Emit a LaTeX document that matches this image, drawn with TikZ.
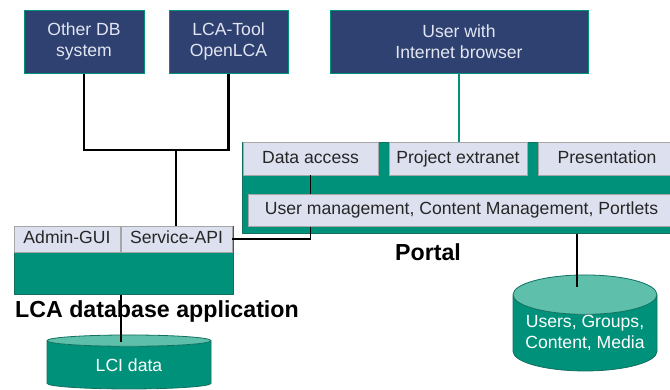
\documentclass[tikz,border=0pt]{standalone}
\usepackage{fontspec}
\setmainfont{Liberation Sans}
\usetikzlibrary{shapes.geometric}
\definecolor{navy}{HTML}{2F4170}
\definecolor{navytext}{HTML}{E2E6F2}
\definecolor{teal1}{HTML}{00917A}
\definecolor{teal2}{HTML}{5EBFAA}
\definecolor{tealdark}{HTML}{11705F}
\definecolor{cell}{HTML}{DDE1EF}
\begin{document}
\begin{tikzpicture}[x=1pt,y=1pt,
                every node/.style={inner sep=0pt,font=\fontsize{17.6}{21}\selectfont},
                extbox/.style={draw=teal1,line width=1pt,fill=navy,text=navytext,align=center},
                frame/.style={draw=tealdark,line width=1pt,fill=teal1},
                cellbox/.style={draw=gray!70,line width=0.6pt,fill=cell,text=black!85,text height=12.5,text depth=3.5},
                dbase/.style={shape=cylinder,shape border rotate=90,draw=tealdark,line width=0.8pt,
                    cylinder uses custom fill,cylinder body fill=teal1,cylinder end fill=teal2,
                    text=white,align=center},
                biglabel/.style={font=\fontsize{23.2}{27}\bfseries\selectfont},
                link/.style={line width=1.5pt}]
                \useasboundingbox (0,0) rectangle (670,-389);
                % outside systems
                \node [extbox,minimum width=120,minimum height=63] (other) at (84,-41.5) {Other DB\\system};
                \node [extbox,minimum width=119,minimum height=63] (tool) at (228.5,-41.5) {LCA-Tool\\OpenLCA};
                \node [extbox,minimum width=258,minimum height=63] (user) at (459,-41.5) {User with\\Internet browser};
                % portal
                \node [frame,minimum width=433,minimum height=91] (portal) at (458.5,-187.5) {};
                \node [cellbox,minimum width=135,minimum height=33] (data) at (310.5,-158.5) {Data access};
                \node [cellbox,minimum width=138,minimum height=33] (extranet) at (458,-158.5) {Project extranet};
                \node [cellbox,minimum width=138,minimum height=33] (present) at (607,-158.5) {Presentation};
                % database application
                \node [frame,minimum width=219,minimum height=68] (app) at (123.5,-260) {};
                \node [cellbox,minimum width=106,minimum height=26] (admin) at (67,-239) {Admin-GUI};
                \node [cellbox,minimum width=111,minimum height=26] (service) at (176.5,-239) {Service-API};
                \draw [link] (data.south) |- (service.east);
                \node [cellbox,minimum width=427,minimum height=32] (usermgmt) at (461.5,-210) {User management, Content Management, Portlets};
                \node [biglabel] (portallabel) at (428,-252) {Portal};
                \node [biglabel] (applabel) at (157,-311) {LCA database application};
                % data stores
                \node [dbase,minimum width=164,minimum height=54,aspect=0.17] (lci) at (129,-365) {LCI data};
                \node [dbase,minimum width=144,minimum height=96,aspect=0.33] (users) at (585,-333) {Users, Groups,\\Content, Media};
                \coordinate (join) at (176,-150);
                \coordinate (lcitap) at (121,-342);
                \coordinate (usertap) at (577,-287);
                % connectors
                \draw [line width=2.2pt] (other.south) |- (join);
                \draw [line width=2.2pt] (tool.south) |- (join);
                \draw [link] (join) -- (service.north -| join);
                \draw [link,teal1] (user.south) -- (extranet.north -| user.south);
                \draw [link] (app.south -| lcitap) -- (lcitap);
                \draw [link] (portal.south -| usertap) -- (usertap);
\end{tikzpicture}
\end{document}
